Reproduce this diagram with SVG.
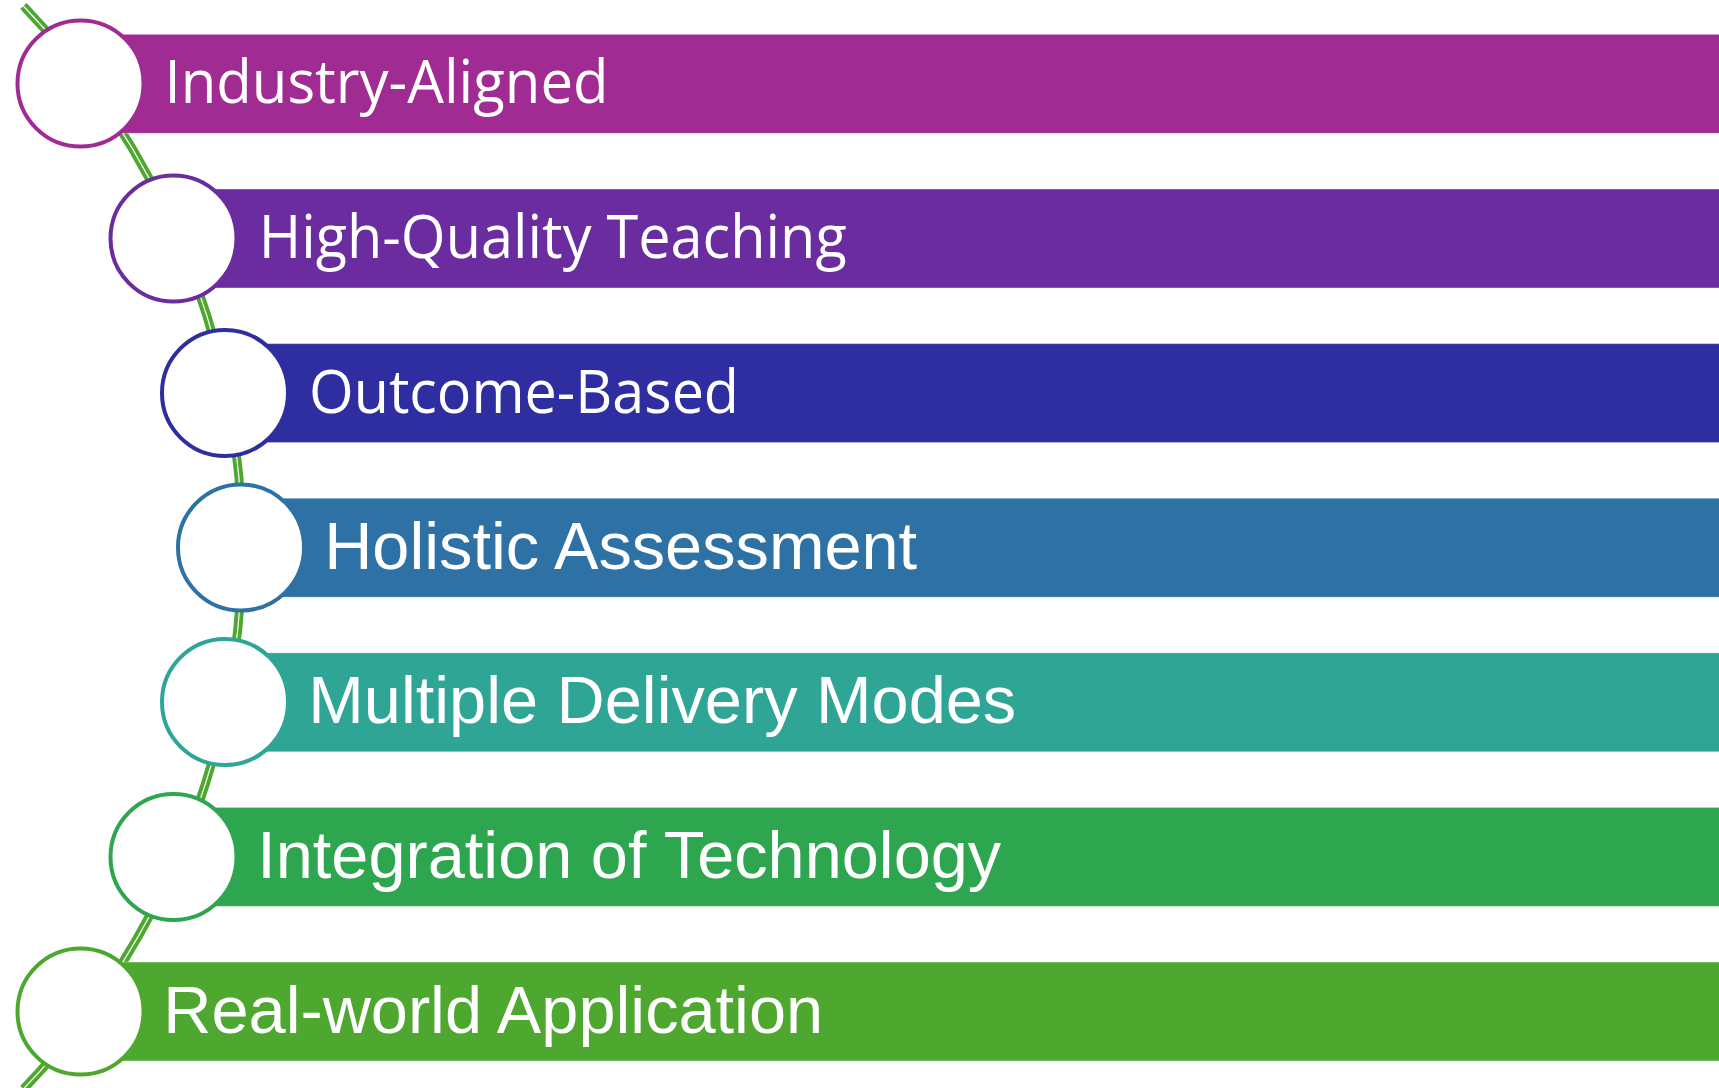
<svg xmlns="http://www.w3.org/2000/svg" width="1719" height="1088" viewBox="0 0 1719 1088">
  <style>
    .bar { stroke: #ffffff; stroke-opacity: 0.4; stroke-width: 1; }
    .dot { fill: #ffffff; stroke-width: 4; }
    .lbl { fill: #ffffff; font-size: 66.7px; }
    .cal { font-family: "Open Sans", "Noto Sans", "Liberation Sans", sans-serif; font-size: 60px; }
    .ari { font-family: "Liberation Sans", Arial, sans-serif; }
    .arc-outer { fill: none; stroke: #4EA72E; stroke-width: 9; }
    .arc-inner { fill: none; stroke: #ffffff; stroke-width: 1.2; }
  </style>
  <rect width="1719" height="1088" fill="#ffffff"/>
  <g id="connectors">
    <path class="arc-outer" d="M 23.4 6 A 780 780 0 0 1 23.4 1089"/>
    <path class="arc-inner" d="M 23.4 6 A 780 780 0 0 1 23.4 1089"/>
  </g>
  <g id="node1">
    <rect class="bar" x="80" y="34.3" width="1645" height="99" fill="#A02B93"/>
    <circle class="dot" cx="80.5" cy="83.5" r="63" stroke="#A02B93"/>
    <text class="lbl cal" x="164.5" y="103" textLength="444" lengthAdjust="spacingAndGlyphs">Industry-Aligned</text>
  </g>
  <g id="node2">
    <rect class="bar" x="173" y="189" width="1552" height="99" fill="#6A2C9F"/>
    <circle class="dot" cx="173.5" cy="238.5" r="63" stroke="#6A2C9F"/>
    <text class="lbl cal" x="258.7" y="258" textLength="588" lengthAdjust="spacingAndGlyphs">High-Quality Teaching</text>
  </g>
  <g id="node3">
    <rect class="bar" x="224.5" y="343.6" width="1500" height="99" fill="#2E2EA0"/>
    <circle class="dot" cx="225" cy="393" r="63" stroke="#2E2EA0"/>
    <text class="lbl cal" x="309" y="412.5" textLength="430" lengthAdjust="spacingAndGlyphs">Outcome-Based</text>
  </g>
  <g id="node4">
    <rect class="bar" x="240.5" y="498.2" width="1485" height="99" fill="#2E72A5"/>
    <circle class="dot" cx="241" cy="547.5" r="63" stroke="#2E72A5"/>
    <text class="lbl ari" x="324.2" y="568.5">Holistic Assessment</text>
  </g>
  <g id="node5">
    <rect class="bar" x="224.5" y="652.8" width="1500" height="99" fill="#2FA596"/>
    <circle class="dot" cx="225" cy="702" r="63" stroke="#2FA596"/>
    <text class="lbl ari" x="308.3" y="723">Multiple Delivery Modes</text>
  </g>
  <g id="node6">
    <rect class="bar" x="173" y="807.4" width="1552" height="99" fill="#2EA650"/>
    <circle class="dot" cx="173.5" cy="857" r="63" stroke="#2EA650"/>
    <text class="lbl ari" x="257.2" y="877.5">Integration of Technology</text>
  </g>
  <g id="node7">
    <rect class="bar" x="80" y="962" width="1645" height="99" fill="#4EA72E"/>
    <circle class="dot" cx="80.5" cy="1011.5" r="63" stroke="#4EA72E"/>
    <text class="lbl ari" x="163.3" y="1032.5">Real-world Application</text>
  </g>
</svg>
